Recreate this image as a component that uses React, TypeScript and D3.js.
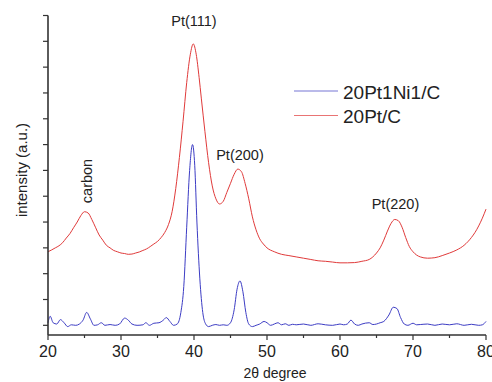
import * as d3 from 'd3';

const W = 492;
const H = 382;

// 2θ positions and intensities
const ptNiTheta = [
  20, 20.3, 20.7, 21.2, 21.7, 22.2, 22.7, 23.2, 23.8, 24.3, 24.8, 25.3, 25.8, 26.3, 26.8, 27.3, 27.8, 28.5,
  29.2, 29.8, 30.5, 31, 31.5, 32.2, 33, 33.4, 33.9, 34.5, 35.2, 35.8, 36.2, 36.7, 37.2, 37.7, 38.2, 38.6,
  39, 39.4, 39.8, 40.1, 40.4, 40.8, 41.2, 41.6, 42, 42.5, 43, 43.5, 44, 44.5, 45, 45.5, 45.9, 46.3, 46.7,
  47.1, 47.5, 48, 48.5, 49, 49.6, 50, 50.5, 51, 51.5, 52, 52.5, 53, 53.5, 54, 55, 56, 57, 58, 59, 60, 60.5,
  61, 61.5, 62, 62.5, 63, 64, 64.5, 65, 65.5, 66, 66.7, 67.3, 67.8, 68.3, 68.8, 69.3, 70, 70.5, 71, 72, 73,
  74, 75, 76, 77, 78, 79, 79.5, 80,
];
const ptNiValue = [
  0.1, 0.35, 0.1, 0.05, 0.22, 0.1, -0.05, 0.02, 0.0, 0.05, 0.2, 0.5, 0.25, 0.0, 0.02, 0.1, 0.0, 0.03,
  0.0, 0.05, 0.28, 0.2, 0.05, 0.0, 0.02, 0.1, 0.0, 0.08, 0.1, 0.2, 0.3, 0.15, 0.0, 0.05, 0.5, 1.5,
  3.8, 6.0, 7.0, 6.2, 4.0, 1.8, 0.5, 0.05, -0.05, 0.0, 0.03, 0.0, 0.02, 0.0, 0.1, 0.6, 1.4, 1.72, 1.3,
  0.5, 0.05, -0.05, 0.0, 0.05, 0.15, 0.1, 0.0, 0.05, 0.1, 0.02, 0.06, 0.0, 0.04, 0.02, 0.05, 0.0, 0.06, 0.02, 0.0, 0.05, 0.02,
  0.05, 0.2, 0.05, 0.0, 0.05, 0.1, 0.03, 0.05, 0.1, 0.15, 0.4, 0.7, 0.65, 0.3, 0.05, 0.0, 0.08, 0.02, 0.03, 0.05, 0.0,
  0.05, 0.02, 0.06, 0.0, 0.04, 0.0, 0.02, 0.15,
];

const ptTheta = [
  20, 20.5, 21, 21.5, 22, 22.5, 23, 23.5, 24, 24.5, 25, 25.5, 26, 26.5, 27, 27.5, 28, 28.5, 29, 29.5, 30,
  30.5, 31, 31.5, 32, 32.5, 33, 33.5, 34, 34.5, 35, 35.5, 36, 36.5, 37, 37.5, 38, 38.5, 39, 39.5, 39.9,
  40.3, 40.7, 41, 41.5, 42, 42.5, 43, 43.5, 44, 44.5, 45, 45.5, 46, 46.5, 47, 47.5, 48, 48.5, 49, 49.5,
  50, 51, 52, 53, 54, 55, 56, 57, 58, 59, 60, 61, 62, 63, 64, 64.5, 65, 65.5, 66, 66.5, 67, 67.5, 68,
  68.5, 69, 69.5, 70, 70.5, 71, 72, 73, 74, 75, 76, 77, 78, 78.5, 79, 79.5, 80,
];
const ptValue = [
  2.85, 2.92, 3.0, 3.08, 3.2, 3.38, 3.55, 3.78, 4.0, 4.25, 4.4, 4.35, 4.1, 3.8, 3.5, 3.3, 3.1, 3.0, 2.9, 2.85, 2.8,
  2.78, 2.75, 2.76, 2.8, 2.84, 2.9, 2.96, 3.05, 3.15, 3.25, 3.4, 3.6, 3.9, 4.4, 5.3, 6.5, 7.9, 9.4, 10.5, 10.9,
  10.5, 9.6, 8.8, 7.5, 6.3, 5.4, 4.9, 4.7, 4.8, 5.15, 5.5, 5.85, 6.05, 5.95, 5.5, 4.9, 4.2, 3.7, 3.35, 3.15,
  3.0, 2.85, 2.75, 2.7, 2.65, 2.6, 2.55, 2.5, 2.48, 2.45, 2.42, 2.42, 2.43, 2.48, 2.55, 2.65, 2.8, 3.0, 3.3, 3.65, 3.95, 4.1, 4.05,
  3.8, 3.4, 3.05, 2.85, 2.72, 2.65, 2.6, 2.62, 2.7, 2.8, 2.92, 3.1, 3.4, 3.6, 3.85, 4.15, 4.5,
];

const xTicks = [20, 30, 40, 50, 60, 70, 80];
const xMinorTicks = [25, 35, 45, 55, 65, 75];
const yTicks = d3.range(0, 13);

const peakLabels = [
  { text: 'Pt(111)', theta: 40, value: 11.6 },
  { text: 'Pt(200)', theta: 46.3, value: 6.4 },
  { text: 'Pt(220)', theta: 67.6, value: 4.5 },
];

const seriesNames = ['20Pt1Ni1/C', '20Pt/C'];
const seriesColors = ['#3c3cc4', '#e03a3a'];

const font = 'Arial, "Liberation Sans", sans-serif';

export default function App() {
  const x = d3.scaleLinear().domain([20, 80]).range([48, 486]);
  const y = d3.scaleLinear().domain([-0.375, 12]).range([335, 15.5]);

  const line = d3
    .line<[number, number]>()
    .x((d) => x(d[0]))
    .y((d) => y(d[1]))
    .curve(d3.curveMonotoneX);

  const ptNi = ptNiTheta.map((t, i) => [t, ptNiValue[i]] as [number, number]);
  const pt = ptTheta.map((t, i) => [t, ptValue[i]] as [number, number]);

  return (
    <svg
      width={W}
      height={H}
      style={{ position: 'absolute', left: 0, top: 0, background: '#fff' }}
      fontFamily={font}
    >
      <path d={line(pt) ?? ''} fill="none" stroke={seriesColors[1]} strokeWidth={1} />
      <path d={line(ptNi) ?? ''} fill="none" stroke={seriesColors[0]} strokeWidth={1} />

      {/* axes */}
      <line x1={x(20)} x2={x(20)} y1={y(12)} y2={y(-0.375)} stroke="#333" strokeWidth={1.6} />
      <line x1={x(20)} x2={x(80)} y1={y(-0.375)} y2={y(-0.375)} stroke="#333" strokeWidth={1.6} />
      {yTicks.map((v) => (
        <line key={v} x1={x(20) - 5} x2={x(20)} y1={y(v)} y2={y(v)} stroke="#333" strokeWidth={1.2} />
      ))}
      {xTicks.map((v) => (
        <g key={v}>
          <line x1={x(v)} x2={x(v)} y1={335} y2={340} stroke="#333" strokeWidth={1.2} />
          <text x={x(v)} y={357} textAnchor="middle" fontSize={16} fill="#222">
            {v}
          </text>
        </g>
      ))}
      {xMinorTicks.map((v) => (
        <line key={v} x1={x(v)} x2={x(v)} y1={335} y2={338} stroke="#333" strokeWidth={1.2} />
      ))}

      <text x={275} y={378} textAnchor="middle" fontSize={14} fill="#222">
        2θ degree
      </text>
      <text
        transform={`translate(27,170) rotate(-90)`}
        textAnchor="middle"
        fontSize={15}
        fill="#222"
      >
        intensity (a.u.)
      </text>

      {peakLabels.map((p) => (
        <text key={p.text} x={x(p.theta)} y={y(p.value)} textAnchor="middle" fontSize={14.5} fill="#222">
          {p.text}
        </text>
      ))}
      <text transform={`translate(92,181) rotate(-90)`} textAnchor="middle" fontSize={14.5} fill="#222">
        carbon
      </text>

      {/* legend */}
      {seriesNames.map((name, i) => (
        <g key={name} transform={`translate(294,${91 + i * 24.5})`}>
          <line x1={0} x2={44} y1={0} y2={0} stroke={seriesColors[i]} strokeWidth={1} opacity={0.7} />
          <text x={49} y={7.5} fontSize={19} fill="#222">
            {name}
          </text>
        </g>
      ))}
    </svg>
  );
}
